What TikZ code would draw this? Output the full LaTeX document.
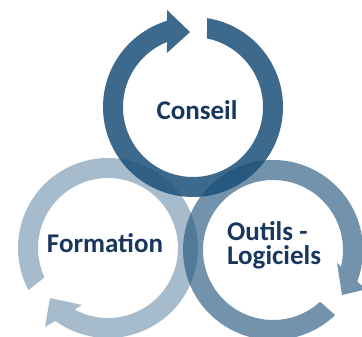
\documentclass[tikz,border=0pt]{standalone}
\usepackage{fontspec}
\setmainfont{Carlito}
\definecolor{ringbase}{RGB}{26,79,120}
\definecolor{textblue}{HTML}{17375E}
\begin{document}
\begin{tikzpicture}[x=1pt,y=1pt,
  ring/.style={fill=ringbase, draw=none},
  lbl/.style={text=textblue, font=\fontsize{27}{24}\selectfont\bfseries, inner sep=0pt}]
\useasboundingbox (0,0) rectangle (362,337);
\clip (0,0) rectangle (362,337);
% Formation ring
\begin{scope}[shift={(108,89)}]
\fill[ring, fill opacity=0.39] (207.9:90) arc[start angle=207.9, end angle=-125.9, radius=90]
  -- (231.4:101) -- (220.8:76.6) -- (245.5:62.6) -- (-118.6:70)
  arc[start angle=-118.6, end angle=204.8, radius=70] -- cycle;
\end{scope}
% Outils ring
\begin{scope}[shift={(273,87)}]
\fill[ring, fill opacity=0.61] (-46.3:90) arc[start angle=-46.3, end angle=-380.5, radius=90]
  -- (-23:101) -- (-33.1:82.4) -- (-11.5:65.3) -- (-373.8:70)
  arc[start angle=-373.8, end angle=-47.7, radius=70] -- cycle;
\end{scope}
% Conseil ring
\begin{scope}[shift={(193,230)}]
\fill[ring, fill opacity=0.85] (81:90) arc[start angle=81, end angle=-253.2, radius=90]
  -- (105:100.4) -- (92.3:75) -- (115.7:60) -- (-248.2:70)
  arc[start angle=-248.2, end angle=78.5, radius=70] -- cycle;
\end{scope}
\node[lbl, anchor=base] (conseil) at (197,217) {Conseil};
\node[lbl, anchor=base] (formation) at (105,84) {Formation};
\node[lbl, anchor=base west, align=left] (outils) at (227,72) {Outils -\\Logiciels};
\end{tikzpicture}
\end{document}
